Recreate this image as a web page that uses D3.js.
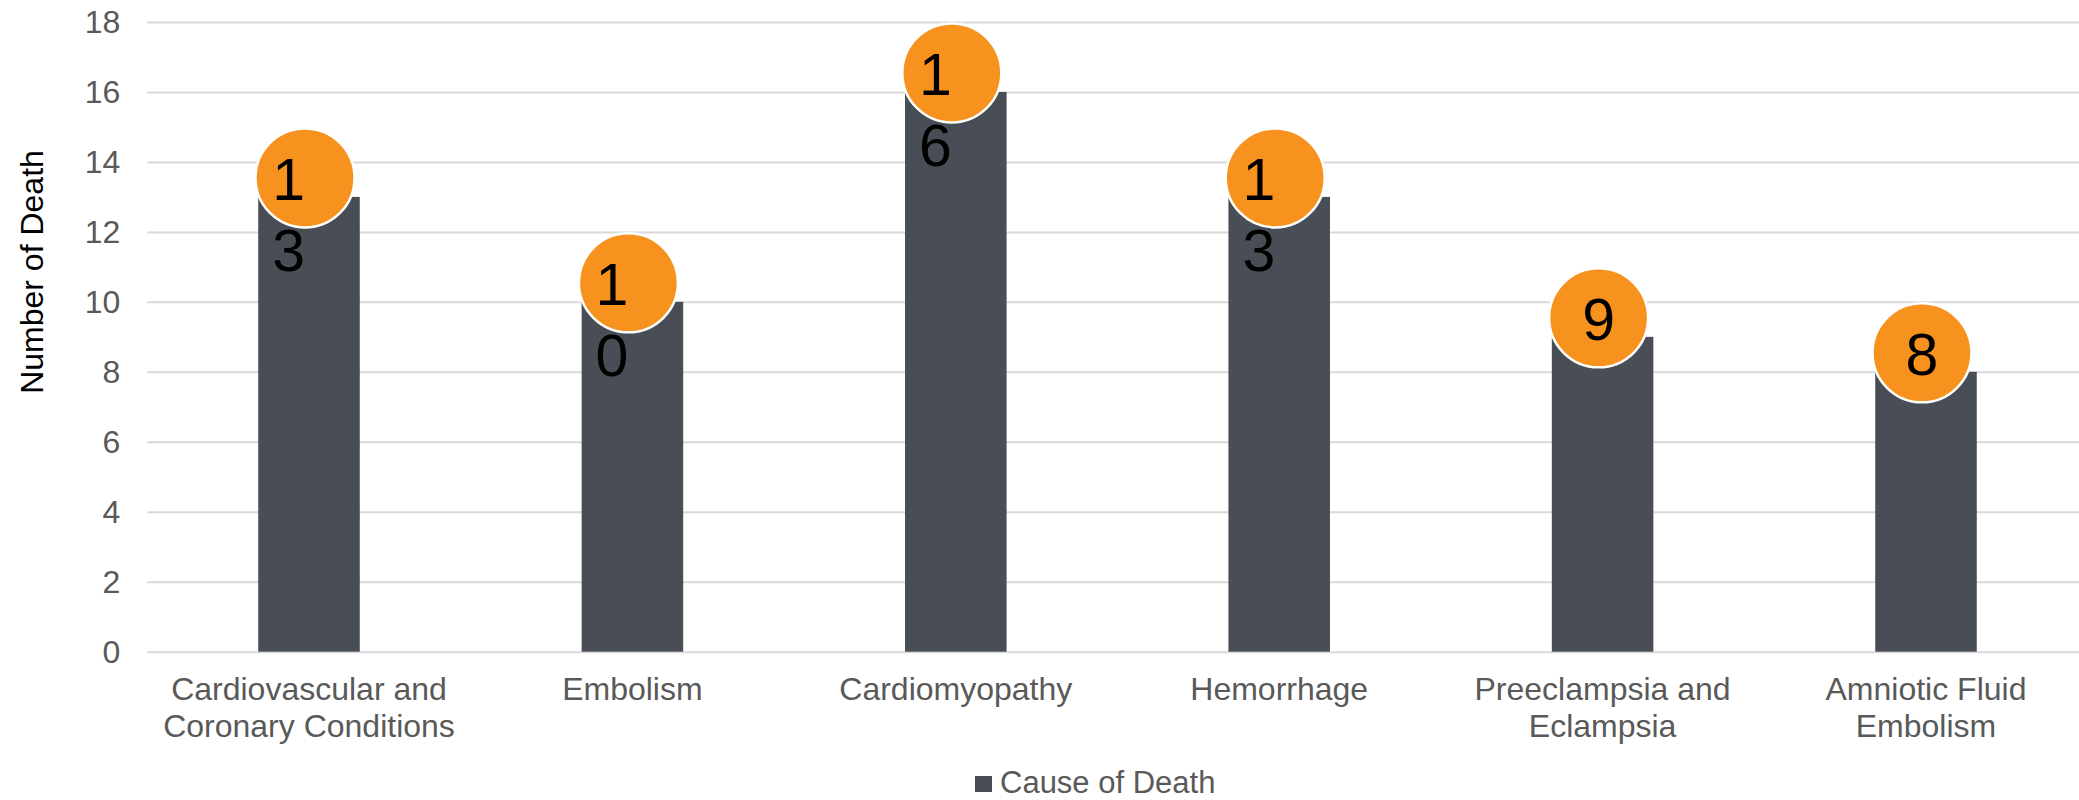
<!DOCTYPE html>
<html>
<head>
<meta charset="utf-8">
<script src="https://cdn.jsdelivr.net/npm/d3@7"></script>
<style>
  html, body { margin: 0; padding: 0; background: #fff; }
  svg { display: block; font-family: "Liberation Sans", Arial, sans-serif; }
</style>
</head>
<body>
<svg id="chart" width="2079" height="800"></svg>
<script>
// Causes of maternal death and counts
const categories = [
  "Cardiovascular and Coronary Conditions",
  "Embolism",
  "Cardiomyopathy",
  "Hemorrhage",
  "Preeclampsia and Eclampsia",
  "Amniotic Fluid Embolism"
];
// Axis text split into display lines
const categoryLines = [
  ["Cardiovascular and", "Coronary Conditions"],
  ["Embolism"],
  ["Cardiomyopathy"],
  ["Hemorrhage"],
  ["Preeclampsia and", "Eclampsia"],
  ["Amniotic Fluid", "Embolism"]
];
const deaths = [13, 10, 16, 13, 9, 8];
const yTicks = [0, 2, 4, 6, 8, 10, 12, 14, 16, 18];
const seriesName = "Cause of Death";
const axisTitle = "Number of Death";

const svg = d3.select("#chart");
const plot = { left: 147.3, right: 2087.7, top: 22, bottom: 651.7 };

const x = d3.scaleBand()
  .domain(categories)
  .range([plot.left, plot.right])
  .paddingInner(0.686)
  .paddingOuter(0.343);

const y = d3.scaleLinear()
  .domain([0, 18])
  .range([plot.bottom, plot.top]);

// Horizontal gridlines and value labels
const yAxis = d3.axisLeft(y)
  .tickValues(yTicks)
  .tickSize(-(plot.right - plot.left))
  .tickPadding(27)
  .tickFormat(d3.format("d"));

const gy = svg.append("g")
  .attr("transform", `translate(${plot.left},0)`)
  .call(yAxis);
gy.select(".domain").remove();
gy.selectAll(".tick line").attr("stroke", "#d9d9d9").attr("stroke-width", 2);
gy.selectAll(".tick text")
  .attr("fill", "#595959")
  .attr("font-size", 32)
  .attr("dy", "0.34em");

// Category labels under the bars
const gx = svg.append("g");
categories.forEach((c, i) => {
  const t = gx.append("text")
    .attr("x", x(c) + x.bandwidth() / 2)
    .attr("y", 700)
    .attr("text-anchor", "middle")
    .attr("fill", "#595959")
    .attr("font-size", 32);
  categoryLines[i].forEach((line, j) => {
    t.append("tspan")
      .attr("x", x(c) + x.bandwidth() / 2)
      .attr("dy", j === 0 ? 0 : 36.7)
      .text(line);
  });
});

// Bars
svg.append("g").selectAll("rect")
  .data(deaths)
  .join("rect")
  .attr("x", (d, i) => x(categories[i]))
  .attr("y", d => y(d))
  .attr("width", x.bandwidth())
  .attr("height", d => y(0) - y(d))
  .attr("fill", "#484d56");

// Round value badges above each bar
const badgeR = 49.5;
const badges = svg.append("g").selectAll("g")
  .data(deaths)
  .join("g")
  .attr("transform", (d, i) =>
    `translate(${x(categories[i]) + x.bandwidth() / 2 - 4},${y(d) - 19})`);

badges.append("circle")
  .attr("r", badgeR)
  .attr("fill", "#f7921e")
  .attr("stroke", "#ffffff")
  .attr("stroke-width", 2.5);

// Labels wrap one digit per line, left-aligned to where the full number would start
badges.each(function (d) {
  const g = d3.select(this);
  const label = String(d);
  const t = g.append("text")
    .attr("font-size", 59)
    .attr("fill", "#000")
    .attr("text-anchor", "start")
    .attr("y", 22);
  const probe = g.append("text").attr("font-size", 59).text(label);
  const w = probe.node().getComputedTextLength();
  probe.remove();
  label.split("").forEach((ch, j) => {
    t.append("tspan")
      .attr("x", -w / 2)
      .attr("dy", j === 0 ? 0 : 71)
      .text(ch);
  });
});

// Y-axis title
svg.append("text")
  .attr("transform", "translate(43,272) rotate(-90)")
  .attr("text-anchor", "middle")
  .attr("fill", "#000")
  .attr("font-size", 32)
  .text(axisTitle);

// Legend
const legend = svg.append("g").attr("transform", "translate(975,776)");
legend.append("rect")
  .attr("width", 17).attr("height", 16)
  .attr("fill", "#484d56");
legend.append("text")
  .attr("x", 25).attr("y", 17)
  .attr("fill", "#595959")
  .attr("font-size", 31)
  .text(seriesName);
</script>
</body>
</html>
